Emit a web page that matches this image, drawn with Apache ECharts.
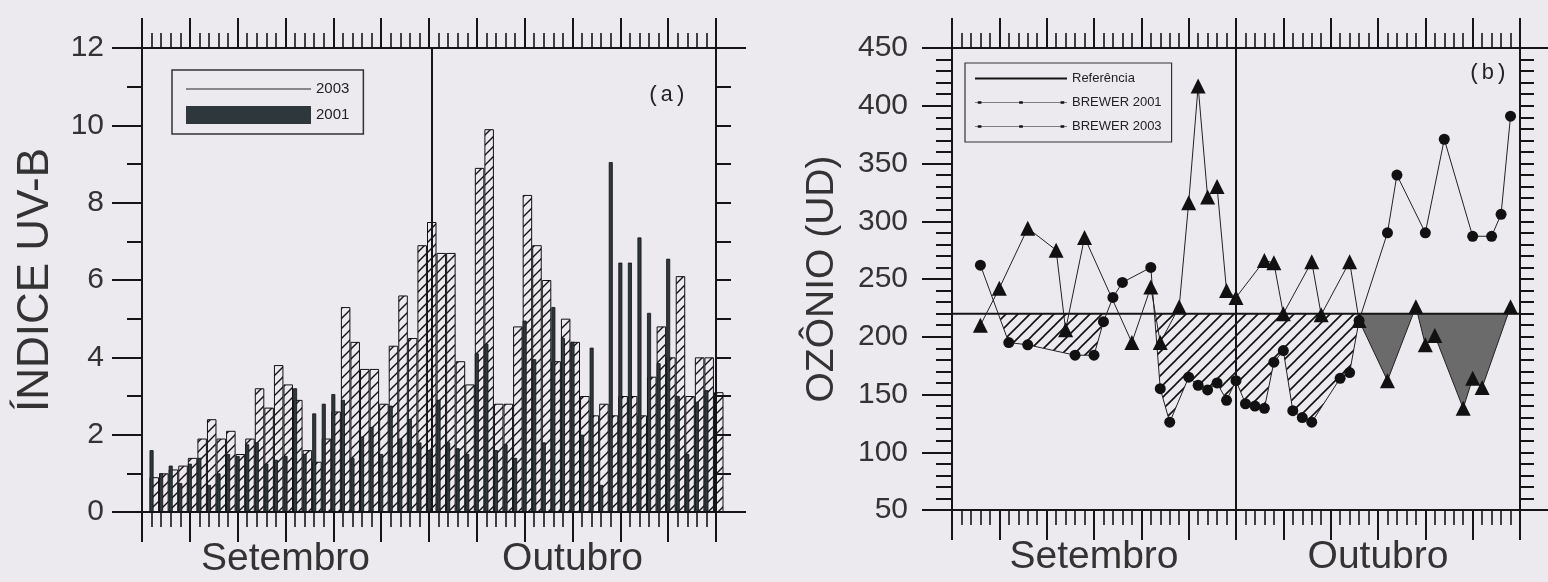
<!DOCTYPE html>
<html><head><meta charset="utf-8">
<script src="https://cdn.jsdelivr.net/npm/echarts/dist/echarts.min.js"></script>
<style>html,body{margin:0;padding:0;background:#eceaef;}#c{width:1548px;height:582px;}</style>
</head><body><div id="c"></div>
<script>
// ---------- DATA ----------
// Panel (a): daily UV-B index, day 1 = 1 Sep, day 31 = 1 Oct
const uv2003 = [0.9,1.0,1.1,1.2,1.4,1.9,2.4,1.9,2.1,1.5,1.9,3.2,2.7,3.8,3.3,2.9,1.6,1.3,1.9,2.6,
                5.3,4.4,3.7,3.7,2.8,4.3,5.6,4.5,6.9,7.5,6.7,6.7,3.9,3.3,8.9,9.9,2.8,2.8,4.8,8.2,
                6.9,6.0,3.9,5.0,4.4,3.0,2.5,2.8,2.5,3.0,3.0,2.5,3.5,4.8,4.0,6.1,3.0,4.0,4.0,3.1];
const uv2001 = [1.6,1.0,1.2,0.75,1.25,1.4,0.7,1.0,1.5,1.45,1.75,1.8,1.25,1.35,1.45,3.2,1.5,2.55,2.8,3.05,
                2.9,1.4,1.95,2.2,1.5,2.75,1.9,2.4,1.8,1.6,2.9,1.8,1.65,1.5,4.1,4.35,1.6,1.75,1.4,4.95,
                3.95,1.8,5.3,4.5,4.4,2.0,4.25,0.7,9.05,6.45,6.45,7.1,5.15,3.85,6.55,3.0,1.5,2.85,3.15,0];
// Panel (b): total ozone (UD)
const triDays   = [3,5,8,11,12,14,19,21,22,24,25,26,27,28,29,30,33,34,35,38,39,42,43,46,49,50,51,54,55,56,59];
const triValues = [210,242,294,275,206,286,195,243,195,226,316,417,321,330,240,234,266,264,220,265,219,265,214,162,226,193,201,138,164,156,226];
const circDays   = [3,6,8,13,15,16,17,18,21,22,23,25,26,27,28,29,30,31,32,33,34,35,36,37,38,41,42,43,46,47,50,52,55,57,58,59];
const circValues = [262,195,193,184,184,213,234,247,260,155,126,165,158,154,160,145,162,142,140,138,178,188,136,130,126,164,169,214,290,340,290,371,287,287,306,391];
const referencia = 220;
const monthLabels = ['Setembro','Outubro'];
const dayMin = 0, dayMax = 60, monthSplit = 30;
const uvTicks = {min:0, max:12, step:2};
const o3Ticks = {min:50, max:450, step:50};

// ---------- STYLE HELPERS ----------
const FONT = 'Liberation Sans, Arial, sans-serif';
const INK = '#151515';
function hatch(size, lw){
  const c = document.createElement('canvas'); c.width = c.height = size;
  const g = c.getContext('2d'); g.strokeStyle = '#111'; g.lineWidth = lw; g.beginPath();
  g.moveTo(0,size); g.lineTo(size,0);
  g.moveTo(-size/2,size/2); g.lineTo(size/2,-size/2);
  g.moveTo(size/2,size*1.5); g.lineTo(size*1.5,size/2);
  g.stroke(); return c;
}
const hatchBars = {image: hatch(10,1.4), repeat:'repeat'};
const hatchArea = {image: hatch(12,1.6), repeat:'repeat'};

function belowRef(xs, ys, ref){
  const polys = []; let cur = null;
  for (let i=0;i<xs.length;i++){
    if (i>0){
      const y0=ys[i-1], y1=ys[i];
      if ((y0-ref)*(y1-ref) < 0){
        const t=(ref-y0)/(y1-y0), xc=xs[i-1]+t*(xs[i]-xs[i-1]);
        if (cur){ cur.push([xc,ref]); polys.push(cur); cur=null; }
        else cur=[[xc,ref]];
      }
    }
    if (ys[i] < ref){ if(!cur) cur=[[xs[i],ref]]; cur.push([xs[i],ys[i]]); }
  }
  if (cur){ cur.push([xs[xs.length-1],ref]); polys.push(cur); }
  return polys;
}
function fillSeries(xs, ys, fill, xi, yi){
  return {type:'custom', xAxisIndex:xi, yAxisIndex:yi, silent:true, z:1,
    data: xs.map((d,i)=>[d,ys[i]]),
    renderItem: function(params, api){
      if (params.dataIndex !== 0) return null;
      return {type:'group', children: belowRef(xs, ys, referencia).map(p=>({
        type:'polygon', shape:{points:p.map(pt=>api.coord(pt))}, style:{fill:fill, stroke:null}}))};
    }};
}
const octTri = triDays.map((d,i)=>[d,triValues[i]]).filter(p=>p[0]>=monthSplit);

function xTickAxis(grid, pos){
  return {gridIndex:grid, type:'value', min:dayMin, max:dayMax, interval:5, position:pos,
    axisLine:{show:true,onZero:false,lineStyle:{color:INK,width:2}},
    axisTick:{show:true,length:30,lineStyle:{color:INK,width:2}},
    minorTick:{show:true,splitNumber:5,length:15,lineStyle:{color:INK,width:1.6}},
    axisLabel:{show:false}, splitLine:{show:false}, minorSplitLine:{show:false}};
}
function monthAxis(grid){
  return {gridIndex:grid, type:'category', data:monthLabels, position:'bottom',
    axisLine:{show:false}, axisTick:{show:false}, splitLine:{show:false},
    axisLabel:{fontSize:39, margin:28, color:'#333', fontFamily:FONT}};
}
const divider = {symbol:'none', silent:true, label:{show:false},
  lineStyle:{color:INK,type:'solid',width:2}, data:[{xAxis:monthSplit}]};
const corners = 'M0,0H0.01V0.01H0Z M99.99,19.99H100V20H99.99Z ';

const option = {
  backgroundColor:'#eceaef', animation:false,
  title:[
    {text:'(a)', left:647, top:84, padding:0, textStyle:{fontFamily:'Liberation Mono, monospace', fontSize:22, fontWeight:'normal', color:'#222'}},
    {text:'(b)', left:1468, top:62, padding:0, textStyle:{fontFamily:'Liberation Mono, monospace', fontSize:22, fontWeight:'normal', color:'#222'}}
  ],
  legend:[
    {left:172, top:70, orient:'vertical', selectedMode:false, symbolKeepAspect:false,
     itemWidth:125, itemHeight:18, itemGap:8, padding:[10,14], borderColor:'#333', borderWidth:1.5,
     textStyle:{fontSize:15, color:'#222', fontFamily:FONT},
     data:[{name:'2003', icon:'path://'+corners+'M0,9.4H100V10.6H0Z', itemStyle:{color:'#222', borderWidth:0}},
           {name:'2001', icon:'rect', itemStyle:{color:'#2e373c', borderWidth:0}}]},
    {left:965, top:63, orient:'vertical', selectedMode:false, symbolKeepAspect:false,
     itemWidth:92, itemHeight:12, itemGap:11, padding:[9,10], borderColor:'#333', borderWidth:1.2,
     textStyle:{fontSize:13, color:'#222', fontFamily:FONT},
     data:[{name:'Referência', icon:'path://'+corners+'M0,8.5H100V11.5H0Z'},
           {name:'BREWER 2001', icon:'path://'+corners+'M0,9.5H100V10.5H0Z M3,8H7V12H3Z M48,8H52V12H48Z M93,8H97V12H93Z'},
           {name:'BREWER 2003', icon:'path://'+corners+'M0,9.5H100V10.5H0Z M3,8H7V12H3Z M48,8H52V12H48Z M93,8H97V12H93Z'}]}
  ],
  grid:[{left:142, top:48, width:574, height:464}, {left:952, top:48, width:568, height:462}],
  xAxis:[xTickAxis(0,'bottom'), xTickAxis(0,'top'), monthAxis(0),
         xTickAxis(1,'bottom'), xTickAxis(1,'top'), monthAxis(1)],
  yAxis:[
    {gridIndex:0, type:'value', min:uvTicks.min, max:uvTicks.max, interval:uvTicks.step, position:'left',
     name:'ÍNDICE UV-B', nameLocation:'middle', nameGap:84, nameTextStyle:{fontSize:44, color:'#333', fontFamily:FONT},
     axisLine:{show:true,onZero:false,lineStyle:{color:INK,width:2}},
     axisTick:{show:true,length:30,lineStyle:{color:INK,width:2}},
     minorTick:{show:true,splitNumber:2,length:15,lineStyle:{color:INK,width:2}},
     axisLabel:{fontSize:30, margin:38, color:'#333', fontFamily:FONT}, splitLine:{show:false}},
    {gridIndex:0, type:'value', min:uvTicks.min, max:uvTicks.max, interval:1, position:'right',
     axisLine:{show:true,onZero:false,lineStyle:{color:INK,width:2}},
     axisTick:{show:true,length:15,lineStyle:{color:INK,width:2}},
     axisLabel:{show:false}, splitLine:{show:false}},
    {gridIndex:1, type:'value', min:o3Ticks.min, max:o3Ticks.max, interval:o3Ticks.step, position:'left',
     name:'OZÔNIO (UD)', nameLocation:'middle', nameGap:110, nameTextStyle:{fontSize:39, color:'#333', fontFamily:FONT},
     axisLine:{show:true,onZero:false,lineStyle:{color:INK,width:2}},
     axisTick:{show:true,length:30,lineStyle:{color:INK,width:2}},
     minorTick:{show:true,splitNumber:5,length:16,lineStyle:{color:INK,width:2}},
     axisLabel:{fontSize:30, margin:44, color:'#333', fontFamily:FONT}, splitLine:{show:false}},
    {gridIndex:1, type:'value', min:o3Ticks.min, max:o3Ticks.max, interval:10, position:'right',
     axisLine:{show:true,onZero:false,lineStyle:{color:INK,width:2}},
     axisTick:{show:true,length:14,lineStyle:{color:INK,width:2}},
     axisLabel:{show:false}, splitLine:{show:false}}
  ],
  series:[
    {type:'bar', name:'2003', xAxisIndex:0, yAxisIndex:0, barWidth:9.5, barGap:'-100%',
     data:uv2003.map((v,i)=>[i+1,v]),
     itemStyle:{color:hatchBars, borderColor:'#111', borderWidth:1}, z:2, markLine:divider},
    {type:'bar', name:'2001', xAxisIndex:0, yAxisIndex:0, barWidth:4, barGap:'-100%',
     data:uv2001.map((v,i)=>[i+1,v]),
     itemStyle:{color:'#2e373c', borderColor:'#111', borderWidth:0.8}, z:3},
    fillSeries(circDays, circValues, hatchArea, 3, 2),
    fillSeries(octTri.map(p=>p[0]), octTri.map(p=>p[1]), '#6b6b6b', 3, 2),
    {type:'line', name:'Referência', xAxisIndex:3, yAxisIndex:2, symbol:'none',
     data:[[dayMin,referencia],[dayMax,referencia]], lineStyle:{color:INK,width:2}, itemStyle:{color:INK}, z:3, markLine:divider},
    {type:'line', name:'BREWER 2001', xAxisIndex:3, yAxisIndex:2, symbol:'triangle', symbolSize:15,
     data:triDays.map((d,i)=>[d,triValues[i]]), lineStyle:{color:'#222',width:1}, itemStyle:{color:'#111'}, z:4},
    {type:'line', name:'BREWER 2003', xAxisIndex:3, yAxisIndex:2, symbol:'circle', symbolSize:11,
     data:circDays.map((d,i)=>[d,circValues[i]]), lineStyle:{color:'#222',width:1}, itemStyle:{color:'#111'}, z:4}
  ]
};
const chart = echarts.init(document.getElementById('c'));
chart.setOption(option);

// frame lines run past the corners by the major tick length, as in the original plot
function frameExt(xi, yi, yMin, yMax, ext){
  const a = chart.convertToPixel({xAxisIndex:xi, yAxisIndex:yi}, [dayMin, yMin]);
  const b = chart.convertToPixel({xAxisIndex:xi, yAxisIndex:yi}, [dayMax, yMax]);
  const st = {stroke:INK, lineWidth:2};
  return [
    {type:'line', silent:true, shape:{x1:a[0]-ext, y1:a[1], x2:b[0]+ext, y2:a[1]}, style:st},
    {type:'line', silent:true, shape:{x1:a[0]-ext, y1:b[1], x2:b[0]+ext, y2:b[1]}, style:st},
    {type:'line', silent:true, shape:{x1:a[0], y1:b[1]-ext, x2:a[0], y2:a[1]+ext}, style:st},
    {type:'line', silent:true, shape:{x1:b[0], y1:b[1]-ext, x2:b[0], y2:a[1]+ext}, style:st}
  ];
}
chart.setOption({graphic: frameExt(0,0,uvTicks.min,uvTicks.max,30).concat(frameExt(3,2,o3Ticks.min,o3Ticks.max,30))});
</script></body></html>
